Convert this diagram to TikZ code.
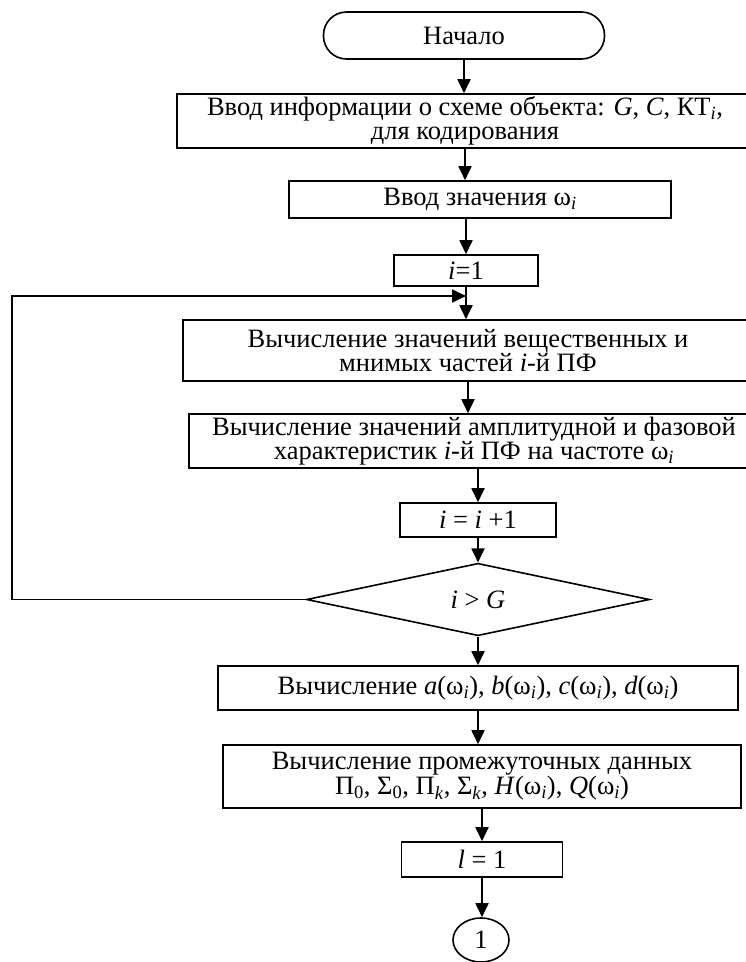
\documentclass[tikz,border=0pt]{standalone}
\usepackage{fontspec}
\setmainfont{Liberation Serif}
\usetikzlibrary{shapes.geometric,arrows.meta}
\newcommand{\myomi}{ω\textsubscript{\textit{i}}}
\tikzset{
  base/.style={draw, line width=1.6pt, inner sep=0pt, align=center,
    font=\fontsize{26.5}{24}\selectfont},
  proc/.style={base, rectangle},
  term/.style={base, rectangle, rounded corners=23pt},
  dec/.style={base, diamond},
  conn/.style={base, ellipse},
  arr/.style={line width=1.8pt, -{Triangle[length=14pt,width=13pt]}}
}
\begin{document}
\begin{tikzpicture}[x=1pt,y=1pt]
\useasboundingbox (0,0) rectangle (746,-962);
\clip (0,0) rectangle (746,-962);

\node[term, minimum width=281pt, minimum height=47pt] (start) at (464,-35.5) {Начало};
\node[proc, minimum width=576pt, minimum height=54pt] (inp) at (465,-121)
  {Ввод информации о схеме объекта: \textit{G}, \textit{C}, КТ\textsubscript{\textit{i}},\\для кодирования};
\node[proc, minimum width=382pt, minimum height=37pt] (om) at (480,-199.5) {Ввод значения \myomi};
\node[proc, minimum width=144pt, minimum height=31pt] (ione) at (466,-270.5) {\textit{i}=1};
\node[proc, minimum width=570pt, minimum height=61pt] (re) at (468,-350.5)
  {Вычисление значений вещественных и\\мнимых частей \textit{i}-й ПФ};
\node[proc, minimum width=570pt, minimum height=54pt] (amp) at (474,-441)
  {Вычисление значений амплитудной и фазовой\\характеристик \textit{i}-й ПФ на частоте \myomi};
\node[proc, minimum width=156pt, minimum height=34pt] (inc) at (478,-520) {\textit{i} = \textit{i} +1};
\node[dec, minimum width=343pt, minimum height=53pt] (dia) at (478,-599.5) {\textit{i} > \textit{G}};
\node[proc, minimum width=520pt, minimum height=44pt] (abcd) at (478,-688)
  {Вычисление \textit{a}(\myomi), \textit{b}(\myomi), \textit{c}(\myomi), \textit{d}(\myomi)};
\node[proc, minimum width=518pt, minimum height=63pt] (mid) at (482,-776.5)
  {Вычисление промежуточных данных\\Π\textsubscript{0}, Σ\textsubscript{0}, Π\textsubscript{\textit{k}}, Σ\textsubscript{\textit{k}}, \textit{H}(\myomi), \textit{Q}(\myomi)};
\node[proc, minimum width=161pt, minimum height=35pt] (lone) at (482,-859.5) {\textit{l} = 1};
\node[conn, minimum width=56pt, minimum height=44pt] (c1) at (481,-940) {1};

\coordinate (lp) at (466,-296);
\coordinate (ct) at (12,-296);

\draw[arr] (start.south) -- (start.south |- inp.north);
\draw[arr] (inp.south) -- (inp.south |- om.north);
\draw[arr] (om.south -| ione.north) -- (ione.north);
\draw[arr] (ione.south) -- (ione.south |- re.north);
\draw[arr] (re.south) -- (re.south |- amp.north);
\draw[arr] (amp.south -| inc.north) -- (inc.north);
\draw[arr] (inc.south) -- (inc.south |- dia.north);
\draw[arr] (dia.south) -- (dia.south |- abcd.north);
\draw[arr] (abcd.south) -- (abcd.south |- mid.north);
\draw[arr] (mid.south) -- (mid.south |- lone.north);
\draw[arr] (lone.south) -- (lone.south |- c1.north);
\draw[arr] (dia.west) -| (ct) -- (lp);
\end{tikzpicture}
\end{document}
